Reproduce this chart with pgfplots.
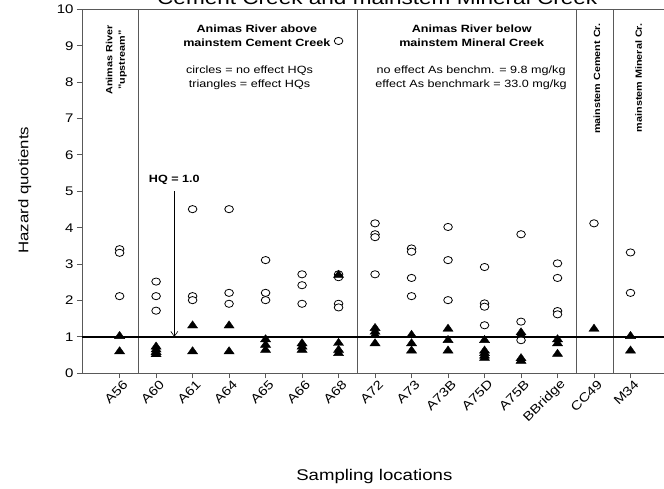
\documentclass[border=0pt]{standalone}
\usepackage{pgfplots}
\pgfplotsset{compat=1.18}
\usepackage{pgfplotstable}
\usetikzlibrary{arrows.meta}
\usepackage{fontspec}
\setmainfont{Liberation Sans}[FakeStretch=1.2]

\pgfplotstableread{
x y
0 3.41
0 3.31
0 2.12
1 2.52
1 2.12
1 1.72
2 4.51
2 2.12
2 2.01
3 4.51
3 2.21
3 1.91
4 3.11
4 2.21
4 2.01
5 2.72
5 2.42
5 1.91
6 9.13
6 2.72
6 2.64
6 1.91
6 1.81
7 4.12
7 3.82
7 3.74
7 2.72
8 3.43
8 3.34
8 2.62
8 2.12
9 4.02
9 3.11
9 2.01
10 2.92
10 1.92
10 1.83
10 1.32
11 3.82
11 1.42
11 0.91
12 3.02
12 2.62
12 1.71
12 1.62
13 4.12
14 3.32
14 2.21
}\circles

\pgfplotstableread{
x y
0 1.02
0 0.60
1 0.73
1 0.65
1 0.58
1 0.52
2 1.31
2 0.60
3 1.31
3 0.60
4 0.93
4 0.78
4 0.64
5 0.82
5 0.73
5 0.64
6 2.70
6 0.83
6 0.64
6 0.55
7 1.24
7 1.14
7 1.05
7 0.82
8 1.05
8 0.82
8 0.62
9 1.22
9 0.91
9 0.62
10 0.91
10 0.62
10 0.55
10 0.48
10 0.42
11 1.12
11 1.05
11 0.41
11 0.34
12 0.93
12 0.82
12 0.53
13 1.22
14 1.02
14 0.62
}\triangles

\begin{document}
\begin{tikzpicture}
\begin{axis}[
  scale only axis, width=585pt, height=364pt,
  xmin=-1.03, xmax=15, ymin=0, ymax=10,
  axis line style={draw=black!65, line width=0.9pt},
  xtick={0,...,14},
  xticklabels={A56,A60,A61,A64,A65,A66,A68,A72,A73,A73B,A75D,A75B,BBridge,CC49,M34},
  ytick={0,...,10},
  tick align=outside, tick pos=left,
  major tick length=5pt,
  tick style={draw=black!65, line width=0.9pt},
  x tick label style={rotate=45, anchor=east, font=\fontsize{12.5}{14}\selectfont, xshift=5pt, yshift=-7pt},
  y tick label style={font=\fontsize{12.5}{14}\selectfont},
  /pgf/number format/assume math mode=true,
  clip=false,
]
% dividers
\draw[black!65, line width=0.9pt] (axis cs:0.53,0) -- (axis cs:0.53,10);
\draw[black!65, line width=0.9pt] (axis cs:6.53,0) -- (axis cs:6.53,10);
\draw[black!65, line width=0.9pt] (axis cs:12.53,0) -- (axis cs:12.53,10);
\draw[black!65, line width=0.9pt] (axis cs:13.53,0) -- (axis cs:13.53,10);
% HQ = 1 line
\draw[black, line width=1.6pt] (axis cs:-1.03,1) -- (axis cs:15,1);
\draw[black, line width=0.6pt, -{Straight Barb[length=5pt,width=7pt]}] (axis cs:1.5,5.0) -- (axis cs:1.5,1.0);
\node[font=\bfseries\fontsize{10.5}{13}\selectfont] at (axis cs:1.5,5.31) {HQ = 1.0};

\addplot[only marks, mark=*, mark size=3.6pt, mark options={fill=white, draw=black, line width=0.8pt, xscale=1.2}] table[x=x,y=y] {\circles};
\addplot[only marks, mark=triangle*, mark size=4.8pt, mark options={fill=black, draw=black, xscale=1.22}] table[x=x,y=y] {\triangles};

% region texts
\node[rotate=90, anchor=east, align=center, font=\bfseries\fontsize{9}{12.5}\selectfont] at (axis cs:-0.09,9.65) {Animas River\\"upstream"};
\node[align=center, font=\bfseries\fontsize{10.5}{14}\selectfont] at (axis cs:3.76,9.27) {Animas River above\\mainstem Cement Creek};
\node[align=center, font=\fontsize{10.5}{14}\selectfont] at (axis cs:3.56,8.11) {circles = no effect HQs\\triangles = effect HQs};
\node[align=center, font=\bfseries\fontsize{10.5}{14}\selectfont] at (axis cs:9.65,9.27) {Animas River below\\mainstem Mineral Creek};
\node[align=center, font=\fontsize{10.5}{14}\selectfont] at (axis cs:9.63,8.11) {no effect As benchm. = 9.8 mg/kg\\effect As benchmark = 33.0 mg/kg};
\node[rotate=90, anchor=east, font=\bfseries\fontsize{9}{11}\selectfont] at (axis cs:13.08,9.71) {mainstem Cement Cr.};
\node[rotate=90, anchor=east, font=\bfseries\fontsize{9}{11}\selectfont] at (axis cs:14.22,9.71) {mainstem Mineral Cr.};

% axis labels and title
\node[rotate=90, font=\fontsize{14}{16}\selectfont] at (axis cs:-2.6,5.03) {Hazard quotients};
\node[anchor=base, font=\fontsize{15.5}{18}\selectfont] at (axis cs:6.98,-2.95) {Sampling locations};
\node[anchor=base, font=\fontsize{18.8}{22}\selectfont] at (axis cs:7.06,10.13) {Cement Creek and mainstem Mineral Creek};
\end{axis}
\pgfresetboundingbox
\useasboundingbox (-82pt,-114.7pt) rectangle (582pt,373.3pt);
\end{tikzpicture}
\end{document}
